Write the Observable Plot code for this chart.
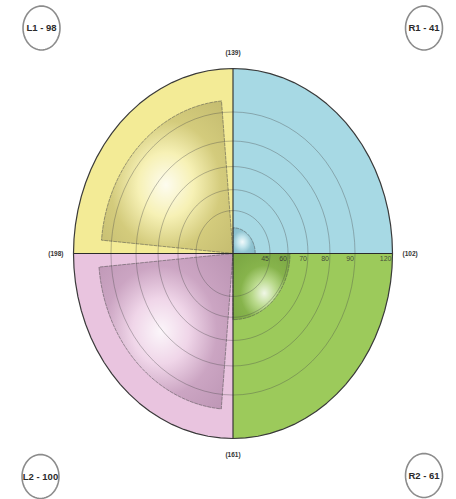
<!DOCTYPE html>
<html><head><meta charset="utf-8">
<script src="https://cdn.jsdelivr.net/npm/d3@7"></script>
<script src="https://cdn.jsdelivr.net/npm/@observablehq/plot@0.6"></script>
<style>body{margin:0;background:#fff}#chart svg{display:block}</style>
</head><body><div id="chart"></div>
<script>
// ---- data ----
const wedgeNames  = ["L1", "R1", "L2", "R2"];
const wedgeValues = [98, 41, 100, 61];
const ringTicks   = [45, 60, 70, 80, 90, 120];
// radial scale anchors (value -> fraction of outer radius), read from ring positions
const radialDomain = [35, 45, 60, 70, 80, 90, 120];
const radialRange  = [0, 0.232, 0.345, 0.47, 0.608, 0.765, 1];

// ---- styles ----
const quadColors = {L1: "#f3eb96", R1: "#a7d9e4", L2: "#e9c4df", R2: "#9cca5b"};
const wedgeDark  = {L1: "#8a8140", R1: "#5a93a6", L2: "#865c80", R2: "#557f28"};
const hiCenter   = {L1: [0.49, 0.55], R1: [0.42, 0.55], L2: [0.46, 0.5], R2: [0.55, 0.6]};
const quadAngles = {R1: [0, 90], L1: [90, 180], L2: [180, 270], R2: [270, 360]};
const padDeg     = {L1: 5, L2: 5, R1: 0, R2: 0};
const cornerPos  = {
  L1: {frameAnchor: "top-left", dx: 41, dy: 27.5},
  R1: {frameAnchor: "top-right", dx: -32.5, dy: 27.5},
  L2: {frameAnchor: "bottom-left", dx: 40, dy: -23},
  R2: {frameAnchor: "bottom-right", dx: -32.5, dy: -24}
};

const rad = d3.scaleLinear().domain(radialDomain).range(radialRange);
const val = Object.fromEntries(wedgeNames.map((n, i) => [n, wedgeValues[i]]));

function arcPts(r, a0, a1, withCenter) {
  const n = 80, pts = [];
  if (withCenter) pts.push({x: 0, y: 0});
  for (let i = 0; i <= n; i++) {
    const a = (a0 + (a1 - a0) * i / n) * Math.PI / 180;
    pts.push({x: r * Math.cos(a), y: r * Math.sin(a)});
  }
  if (withCenter) pts.push({x: 0, y: 0});
  return pts;
}

const marks = [];
// quadrant fills
for (const n of wedgeNames) {
  const [a0, a1] = quadAngles[n];
  marks.push(Plot.line(arcPts(1, a0, a1, true), {x: "x", y: "y", fill: quadColors[n], stroke: "none"}));
}
// wedges
for (const n of wedgeNames) {
  const [a0, a1] = quadAngles[n];
  const p = padDeg[n];
  marks.push(Plot.line(arcPts(rad(val[n]), a0 + p, a1 - p, true), {
    x: "x", y: "y", fill: `url(#grad${n})`, stroke: "#4a4a4a", strokeWidth: 0.7,
    strokeOpacity: 0.75, strokeDasharray: "3,1.5"
  }));
}
// rings
const ringPts = ringTicks.filter(t => t < 120).flatMap(t => arcPts(rad(t), 0, 360, false).map(d => ({...d, t})));
marks.push(Plot.line(ringPts, {x: "x", y: "y", z: "t", stroke: "#4a4a4a", strokeOpacity: 0.45, strokeWidth: 0.8}));
// axes lines
marks.push(Plot.ruleX([0], {y1: -1, y2: 1, stroke: "#2b2b2b", strokeWidth: 1.1}));
marks.push(Plot.ruleY([0], {x1: -1, x2: 1, stroke: "#2b2b2b", strokeWidth: 1.1}));
// outer ellipse
marks.push(Plot.line(arcPts(1, 0, 360, false), {x: "x", y: "y", stroke: "#3a3a3a", strokeWidth: 1.2}));
// ring tick labels
marks.push(Plot.text(ringTicks, {x: d => rad(d), y: 0, text: d => String(d), textAnchor: "end", dx: -1, dy: 5,
  fontSize: 7, fill: "#333", fillOpacity: 0.85, fontFamily: "'Liberation Sans', Arial, sans-serif"}));
// side totals
const sideFont = {fontSize: 6.5, fontWeight: "bold", fill: "#333", fontFamily: "'Liberation Sans', Arial, sans-serif"};
marks.push(Plot.text([val.L1 + val.R1], {x: 0, y: 1, text: d => `(${d})`, dy: -16, ...sideFont}));
marks.push(Plot.text([val.L2 + val.R2], {x: 0, y: -1, text: d => `(${d})`, dy: 16, ...sideFont}));
marks.push(Plot.text([val.L1 + val.L2], {x: -1, y: 0, text: d => `(${d})`, dx: -10, textAnchor: "end", ...sideFont}));
marks.push(Plot.text([val.R1 + val.R2], {x: 1, y: 0, text: d => `(${d})`, dx: 10, textAnchor: "start", ...sideFont}));
// corner labels
const ellipseSym = {draw(ctx, size) {
  const r = Math.sqrt(size / Math.PI), rx = r * 0.84, ry = r;
  for (let i = 0; i <= 64; i++) {
    const a = i / 64 * 2 * Math.PI;
    if (i === 0) ctx.moveTo(rx * Math.cos(a), ry * Math.sin(a));
    else ctx.lineTo(rx * Math.cos(a), ry * Math.sin(a));
  }
  ctx.closePath();
}};
for (const n of wedgeNames) {
  marks.push(Plot.dot([n], {...cornerPos[n], r: 22, symbol: ellipseSym, fill: "white", stroke: "#8c8c8c", strokeWidth: 1.6}));
  marks.push(Plot.text([n], {...cornerPos[n], text: d => `${d} - ${val[d]}`, textAnchor: "middle", lineAnchor: "middle",
    fontSize: 9.5, fontWeight: "bold", fill: "#2a2a2a",
    fontFamily: "'Liberation Sans Narrow', 'Liberation Sans', Arial, sans-serif"}));
}

const chart = Plot.plot({
  width: 456, height: 499, margin: 0,
  x: {domain: [-1, 1], range: [73, 392], axis: null},
  y: {domain: [-1, 1], range: [438, 68], axis: null},
  style: {background: "white"},
  marks
});
// gradients
const defs = d3.select(chart).insert("defs", ":first-child");
for (const n of wedgeNames) {
  const g = defs.append("radialGradient").attr("id", `grad${n}`)
    .attr("cx", hiCenter[n][0]).attr("cy", hiCenter[n][1]).attr("r", 0.7)
    .attr("fx", hiCenter[n][0]).attr("fy", hiCenter[n][1]);
  g.append("stop").attr("offset", 0).attr("stop-color", "#ffffff").attr("stop-opacity", 0.85);
  g.append("stop").attr("offset", 0.3).attr("stop-color", "#ffffff").attr("stop-opacity", 0.3);
  g.append("stop").attr("offset", 0.6).attr("stop-color", wedgeDark[n]).attr("stop-opacity", 0.3);
  g.append("stop").attr("offset", 1).attr("stop-color", wedgeDark[n]).attr("stop-opacity", 0.45);
}
document.getElementById("chart").appendChild(chart);
</script></body></html>
